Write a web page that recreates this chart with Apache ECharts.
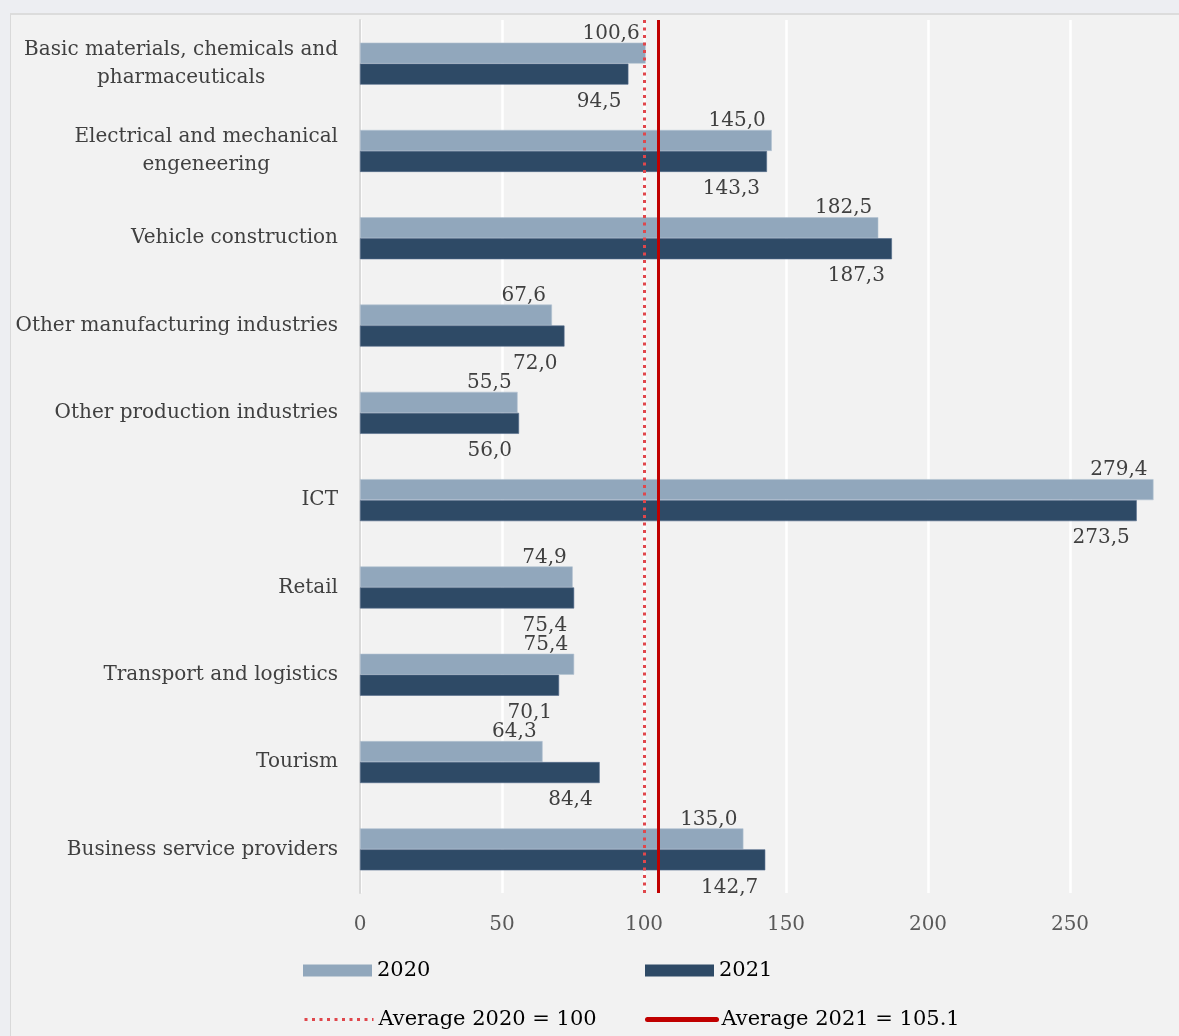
<!DOCTYPE html>
<html><head><meta charset="utf-8">
<script src="https://cdn.jsdelivr.net/npm/echarts@6/dist/echarts.min.js"></script>
<style>
html,body{margin:0;padding:0;background:#edeef2;}
#frame{position:absolute;left:10px;top:13px;width:1200px;height:1100px;background:#f2f2f2;border-left:1px solid #d9d9d9;border-top:2px solid #dcdcdc;}
#chart{position:absolute;left:0;top:0;width:1179px;height:1036px;}
</style></head>
<body><div id="frame"></div><div id="chart"></div>
<script>
const categories = [
  "Basic materials, chemicals and\npharmaceuticals",
  "Electrical and mechanical\nengeneering",
  "Vehicle construction",
  "Other manufacturing industries",
  "Other production industries",
  "ICT",
  "Retail",
  "Transport and logistics",
  "Tourism",
  "Business service providers"
];
const values2020 = [100.6, 145.0, 182.5, 67.6, 55.5, 279.4, 74.9, 75.4, 64.3, 135.0];
const values2021 = [94.5, 143.3, 187.3, 72.0, 56.0, 273.5, 75.4, 70.1, 84.4, 142.7];
const average2020 = 100;
const average2021 = 105.1;
const seriesNames = ["2020", "2021", "Average 2020 = 100", "Average 2021 = 105.1"];
const xTicks = [0, 50, 100, 150, 200, 250, 300];

const FONT = "DejaVu Serif";
const fmt = v => v.toFixed(1).replace('.', ',');
const chart = echarts.init(document.getElementById('chart'), null, {renderer: 'canvas'});

function legendAt(name, left, top, extra) {
  return Object.assign({
    data: [name], left: left, top: top, itemWidth: 69, itemHeight: 12, itemGap: 0,
    textStyle: {fontFamily: FONT, fontSize: 21, color: '#000'}, padding: 0
  }, extra || {});
}

chart.setOption({
  backgroundColor: 'transparent',
  textStyle: {fontFamily: FONT},
  grid: {left: 360, top: 20, width: 852, height: 873, containLabel: false, outerBoundsMode: 'none'},
  xAxis: {
    type: 'value', min: xTicks[0], max: xTicks[xTicks.length - 1], interval: 50,
    axisLine: {show: false}, axisTick: {show: false},
    splitLine: {show: true, lineStyle: {color: '#ffffff', width: 2.5}},
    axisLabel: {fontFamily: FONT, fontSize: 20, color: '#595959', margin: 22}
  },
  yAxis: {
    type: 'category', data: categories, inverse: true,
    axisLine: {show: true, lineStyle: {color: '#d9d9d9', width: 2}},
    axisTick: {show: false},
    axisLabel: {
      margin: 22, fontFamily: FONT, fontSize: 20, color: '#404040', lineHeight: 28,
      formatter: v => v.split('\n').map(s => '{c|' + s + '}').join('\n'),
      rich: {c: {align: 'center', fontFamily: FONT, fontSize: 20, color: '#404040', lineHeight: 28}}
    }
  },
  legend: [
    legendAt(seriesNames[0], 303, 960, {icon: 'rect', itemStyle: {borderWidth: 0}}),
    legendAt(seriesNames[1], 645, 960, {icon: 'rect', itemStyle: {borderWidth: 0}}),
    legendAt(seriesNames[2], 303, 1009, {itemStyle: {opacity: 0},
      lineStyle: {color: '#e0474c', width: 3, type: [3, 4.5]}}),
    legendAt(seriesNames[3], 645, 1009, {itemStyle: {opacity: 0},
      lineStyle: {color: '#c00000', width: 5, cap: 'round'}})
  ],
  series: [
    {
      name: seriesNames[0], type: 'bar', data: values2020, barWidth: 21, barGap: '0%',
      itemStyle: {color: '#91a7bc', borderColor: '#b4c3d1', borderWidth: 0.6},
      label: {show: true, position: ['100%', 0], align: 'right', verticalAlign: 'bottom',
        offset: [-6, 1], formatter: p => fmt(p.value), fontFamily: FONT, fontSize: 20, color: '#404040'}
    },
    {
      name: seriesNames[1], type: 'bar', data: values2021, barWidth: 21, barGap: '0%',
      itemStyle: {color: '#2e4a66', borderColor: '#52698a', borderWidth: 0.6},
      label: {show: true, position: ['100%', '100%'], align: 'right', verticalAlign: 'top',
        offset: [-7, 7], formatter: p => fmt(p.value), fontFamily: FONT, fontSize: 20, color: '#404040'}
    },
    {
      name: seriesNames[2], type: 'line', data: [], symbol: 'none',
      lineStyle: {color: '#e0474c', width: 3, type: [3, 4.5]},
      itemStyle: {color: '#e0474c'},
      markLine: {silent: true, symbol: 'none', label: {show: false},
        lineStyle: {color: '#e0474c', width: 3, type: [3, 4.5]},
        data: [{xAxis: average2020}]}
    },
    {
      name: seriesNames[3], type: 'line', data: [], symbol: 'none',
      lineStyle: {color: '#c00000', width: 5, cap: 'round'},
      itemStyle: {color: '#c00000'},
      markLine: {silent: true, symbol: 'none', label: {show: false},
        lineStyle: {color: '#c00000', width: 3, type: 'solid'},
        data: [{xAxis: average2021}]}
    }
  ]
});
</script></body></html>
